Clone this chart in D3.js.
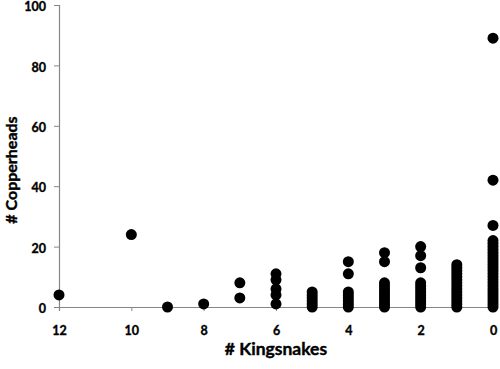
<!DOCTYPE html>
<html>
<head>
<meta charset="utf-8">
<script src="https://cdn.jsdelivr.net/npm/d3@7"></script>
<style>
  html, body { margin: 0; padding: 0; background: #fff; }
  svg { display: block; }
  text { font-family: Lato, "Open Sans", "Liberation Sans", sans-serif; font-weight: bold; fill: #000; }
</style>
</head>
<body>
<svg id="chart" width="500" height="369"></svg>
<script>
// Data: each point is (kingsnakes, copperheads)
const kingsnakes = [
  12, 10, 9, 8, 7, 7,
  6, 6, 6, 6, 6,
  5, 5, 5, 5, 5, 5,
  4, 4, 4, 4, 4, 4, 4, 4,
  3, 3, 3, 3, 3, 3, 3, 3, 3, 3, 3,
  2, 2, 2, 2, 2, 2, 2, 2, 2, 2, 2, 2,
  1, 1, 1, 1, 1, 1, 1, 1, 1, 1, 1, 1, 1, 1, 1,
  0, 0, 0, 0, 0, 0, 0, 0, 0, 0, 0, 0, 0, 0, 0, 0, 0, 0, 0, 0, 0, 0, 0, 0, 0, 0
];
const copperheads = [
  4, 24, 0, 1, 3, 8,
  1, 4, 6, 9, 11,
  0, 1, 2, 3, 4, 5,
  0, 1, 2, 3, 4, 5, 11, 15,
  0, 1, 2, 3, 4, 5, 6, 7, 8, 15, 18,
  0, 1, 2, 3, 4, 5, 6, 7, 8, 13, 17, 20,
  0, 1, 2, 3, 4, 5, 6, 7, 8, 9, 10, 11, 12, 13, 14,
  0, 1, 2, 3, 4, 5, 6, 7, 8, 9, 10, 11, 12, 13, 14, 15, 16, 17, 18, 19, 20, 21, 22, 27, 42, 89
];
const xTicks = [12, 10, 8, 6, 4, 2, 0];
const yTicks = [0, 20, 40, 60, 80, 100];
const xTitle = "# Kingsnakes";
const yTitle = "# Copperheads";

const svg = d3.select("#chart");
const x = d3.scaleLinear().domain([12, 0]).range([59, 493]);
const y = d3.scaleLinear().domain([0, 100]).range([307, 5]);
const axisColor = "#868686";

function styleTickText(sel) {
  sel.style("font-size", "12.5px")
    .style("font-family", "Lato, sans-serif")
    .style("font-weight", "bold")
    .attr("fill", "#000")
    .attr("stroke", "#000")
    .attr("stroke-width", 0.35);
}

// Y axis
const yAxis = svg.append("g")
  .attr("transform", `translate(${x(12)},0)`)
  .call(d3.axisLeft(y).tickValues(yTicks).tickSize(5).tickPadding(8).tickFormat(d3.format("d")));
yAxis.select(".domain").attr("stroke", axisColor).attr("stroke-width", 1.2);
yAxis.selectAll(".tick line").attr("stroke", axisColor);
yAxis.selectAll(".tick text").call(styleTickText).attr("dy", "0.45em");

// X axis
const xAxis = svg.append("g")
  .attr("transform", `translate(0,${y(0)})`)
  .call(d3.axisBottom(x).tickValues(xTicks).tickSize(4).tickPadding(15).tickFormat(d3.format("d")));
xAxis.select(".domain").attr("stroke", axisColor).attr("stroke-width", 1.2);
xAxis.selectAll(".tick line").attr("stroke", axisColor);
xAxis.selectAll(".tick text").call(styleTickText);

// Points
svg.append("g").selectAll("circle")
  .data(kingsnakes.map((k, i) => [k, copperheads[i]]))
  .join("circle")
  .attr("cx", d => x(d[0]))
  .attr("cy", d => y(d[1]))
  .attr("r", 5.5)
  .attr("fill", "#000");

// Titles
svg.append("text")
  .attr("x", 276).attr("y", 355)
  .attr("text-anchor", "middle")
  .attr("stroke", "#000").attr("stroke-width", 0.4)
  .style("font-size", "17.5px")
  .text(xTitle);

svg.append("text")
  .attr("transform", "translate(17,170) rotate(-90)")
  .attr("text-anchor", "middle")
  .attr("stroke", "#000").attr("stroke-width", 0.4)
  .style("font-size", "16px")
  .text(yTitle);
</script>
</body>
</html>
